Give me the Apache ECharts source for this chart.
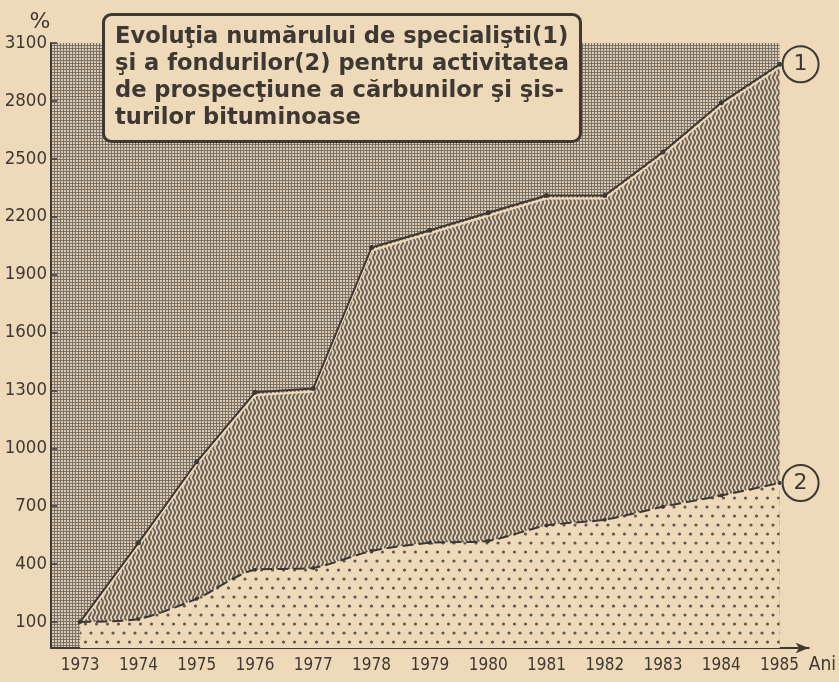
<!DOCTYPE html>
<html><head><meta charset="utf-8">
<script src="https://cdn.jsdelivr.net/npm/echarts@6/dist/echarts.min.js"></script>
<style>html,body{margin:0;padding:0;background:#eed9b8;}#c{width:839px;height:682px;}</style>
</head><body><div id="c"></div>
<script>
// ---- data ----
const years = ['1973','1974','1975','1976','1977','1978','1979','1980','1981','1982','1983','1984','1985'];
const specialists = [100, 510, 930, 1290, 1310, 2040, 2130, 2220, 2310, 2310, 2535, 2790, 2990];
const funds = [100, 115, 220, 370, 380, 468, 510, 520, 600, 630, 697, 755, 820];
const yTicks = [100, 400, 700, 1000, 1300, 1600, 1900, 2200, 2500, 2800, 3100];
const titleLines = [
  'Evoluţia numărului de specialişti(1)',
  'şi a fondurilor(2) pentru activitatea',
  'de prospecţiune a cărbunilor şi şis-',
  'turilor bituminoase'
];
const yAxisName = '%';
const xAxisName = 'Ani';

// ---- styles ----
const PAPER = '#eed9b8';
const INK = '#3e3834';
function tile(w, h, draw) {
  const c = document.createElement('canvas');
  c.width = w; c.height = h;
  draw(c.getContext('2d'));
  return { image: c, repeat: 'repeat' };
}
const crossHatch = tile(3, 3, g => {
  g.fillStyle = '#ddcbb0'; g.fillRect(0, 0, 3, 3);
  g.fillStyle = '#7a7169'; g.fillRect(0, 0, 3, 1); g.fillRect(0, 0, 1, 3);
});
const wavy = tile(4, 10, g => {
  g.fillStyle = '#e4d1b3'; g.fillRect(0, 0, 4, 10);
  g.strokeStyle = '#665e57'; g.lineWidth = 1.8;
  g.beginPath();
  for (let y = -1; y <= 11; y += 0.5) {
    const x = 2 + 1.1 * Math.sin(2 * Math.PI * y / 10);
    if (y === -1) g.moveTo(x, y); else g.lineTo(x, y);
  }
  g.stroke();
});
const dots = tile(11, 18, g => {
  g.fillStyle = PAPER; g.fillRect(0, 0, 11, 18);
  g.fillStyle = '#5f5751';
  g.beginPath(); g.arc(3, 3, 1.6, 0, Math.PI * 2); g.fill();
  g.beginPath(); g.arc(8.5, 12, 1.6, 0, Math.PI * 2); g.fill();
});

const chart = echarts.init(document.getElementById('c'), null, { renderer: 'canvas' });
const labelFont = "'DejaVu Sans Condensed', sans-serif";
const circleLabel = txt => ({
  show: true, formatter: txt, distance: 4,
  fontFamily: 'DejaVu Sans', fontSize: 22, color: INK, lineHeight: 24,
  padding: [5, 10], borderColor: INK, borderWidth: 2, borderRadius: 18,
  backgroundColor: PAPER
});

chart.setOption({
  backgroundColor: PAPER,
  animation: false,
  title: {
    text: titleLines.join('\n'),
    left: 103, top: 14,
    padding: [10, 12, 10, 12],
    borderColor: INK, borderWidth: 3, borderRadius: 8,
    backgroundColor: PAPER,
    textStyle: { fontFamily: 'DejaVu Sans', fontWeight: 'bold', fontSize: 22.6, lineHeight: 27, color: INK }
  },
  grid: { left: 51, right: 25, top: 43, bottom: 34 },
  xAxis: {
    type: 'category', data: years, boundaryGap: true,
    name: xAxisName, nameLocation: 'end', nameGap: 0,
    nameTextStyle: { fontFamily: labelFont, fontSize: 19, color: INK, verticalAlign: 'top', align: 'left', padding: [8, 0, 0, 0] },
    axisLine: { onZero: false, lineStyle: { color: INK, width: 2 }, symbol: ['none', 'arrow'], symbolSize: [8, 13] },
    axisTick: { inside: true, alignWithLabel: true, length: 5, lineStyle: { color: INK, width: 1.5 } },
    axisLabel: { fontFamily: labelFont, fontSize: 17, color: INK, margin: 9 },
    splitLine: { show: false }
  },
  yAxis: {
    type: 'value', min: -35, max: 3100,
    name: yAxisName, nameLocation: 'end', nameGap: 8,
    nameTextStyle: { fontFamily: 'DejaVu Sans', fontSize: 22, color: INK, padding: [0, 22, 0, 0] },
    axisLine: { show: true, lineStyle: { color: INK, width: 2 } },
    axisTick: { show: true, inside: true, length: 6, customValues: yTicks, lineStyle: { color: INK, width: 1.5 } },
    axisLabel: { customValues: yTicks, formatter: v => String(v), fontFamily: labelFont, fontSize: 18.5, color: INK, margin: 4 },
    splitLine: { show: false }
  },
  series: [
    {
      name: 'specialisti', type: 'line', data: specialists, z: 3,
      symbol: 'circle', symbolSize: 5,
      itemStyle: { color: INK },
      lineStyle: { color: INK, width: 2, shadowColor: PAPER, shadowBlur: 0, shadowOffsetY: 3 },
      areaStyle: { color: wavy, origin: 'start', opacity: 1 },
      endLabel: circleLabel('1')
    },
    {
      name: 'fonduri', type: 'line', data: funds, z: 4, smooth: 0.25,
      symbol: 'circle', symbolSize: 4,
      itemStyle: { color: INK },
      lineStyle: { color: INK, width: 2, type: [11, 5] },
      areaStyle: { color: dots, origin: 'start', opacity: 1 },
      endLabel: circleLabel('2')
    }
  ]
});

// background cross-hatched panel, placed through the chart's own axes
const xa = chart.convertToPixel({ xAxisIndex: 0 }, years[0]);
const xb = chart.convertToPixel({ xAxisIndex: 0 }, years[years.length - 1]);
const band = (xb - xa) / (years.length - 1);
const yTop = chart.convertToPixel({ yAxisIndex: 0 }, yTicks[yTicks.length - 1]);
const yBot = chart.convertToPixel({ yAxisIndex: 0 }, -35);
chart.setOption({
  graphic: [{
    type: 'rect', z: -1, silent: true,
    shape: { x: xa - band / 2, y: yTop, width: xb - (xa - band / 2), height: yBot - yTop },
    style: { fill: crossHatch }
  }]
});
</script></body></html>
